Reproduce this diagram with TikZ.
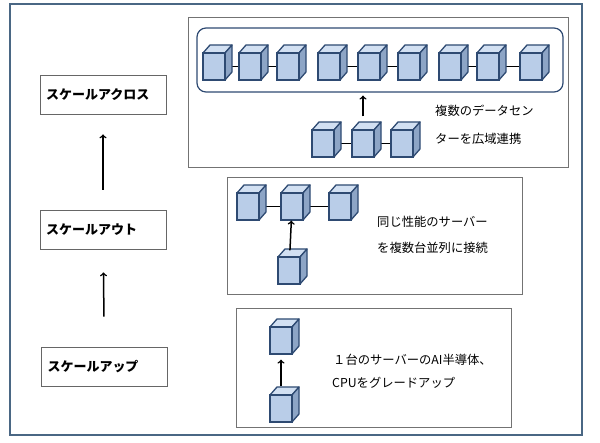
\documentclass[tikz,border=0pt]{standalone}
\usepackage{fontspec}
\setmainfont{Noto Sans CJK JP}
\usetikzlibrary{arrows,backgrounds}
\definecolor{srvfront}{HTML}{B9CDE8}
\definecolor{srvside}{HTML}{8DA5C6}
\definecolor{srvtop}{HTML}{D2E0F2}
\definecolor{srvline}{HTML}{2E4A72}
\definecolor{frameblue}{HTML}{4A6784}
% server cube: name, x, y of front top-left
\newcommand\srv[3]{
  \draw [srvline, line width=1.3pt, line join=round, fill=srvtop] (#2,#3) -- ({#2+7},{#3-8}) -- ({#2+29},{#3-8}) -- ({#2+22},#3) -- cycle;
  \draw [srvline, line width=1.3pt, line join=round, fill=srvside] ({#2+22},#3) -- ({#2+29},{#3-8}) -- ({#2+29},{#3+19}) -- ({#2+22},{#3+27}) -- cycle;
  \node [front] (#1) at ({#2+11},{#3+13.5}) {};
}
\tikzset{
  front/.style={draw=srvline, line width=1.3pt, fill=srvfront, minimum width=22pt, minimum height=27pt, inner sep=0pt},
  panel/.style={draw=black!55, line width=0.8pt, inner sep=0pt},
  level/.style={draw=black!60, line width=0.8pt, minimum width=126pt, minimum height=39pt, text width=114pt, align=left, font=\fontsize{13}{15}\selectfont\bfseries},
  note/.style={anchor=west, inner sep=0pt, font=\fontsize{12.3}{14}\selectfont},
  link/.style={black, line width=1.5pt},
  up/.style={->, line width=1.5pt}
}
\begin{document}
\begin{tikzpicture}[x=1pt, y=-1pt]
\useasboundingbox (0,0) rectangle (600,443);
\draw [frameblue, line width=1.8pt] (10,4) rectangle (582,435);

% levels
\node [level] (across) at (103,94.5) {スケールアクロス};
\node [level] (out)    at (103,229.5) {スケールアウト};
\node [level] (upl)    at (104.5,366.5) {スケールアップ};
\draw [up, shorten <=20pt, shorten >=20pt] (out) -- (across);
\draw [up, shorten <=30pt, shorten >=23pt] (upl) -- (out);

% panels
\node [panel, minimum width=380pt, minimum height=150pt] (p1) at (378,92) {};
\node [panel, minimum width=295pt, minimum height=117pt] (p2) at (374.5,235.5) {};
\node [panel, minimum width=275pt, minimum height=119pt] (p3) at (373.5,367.5) {};

% data centers
\node [draw=srvline, line width=1.2pt, rounded corners=9pt, minimum width=366pt, minimum height=64pt] (dcs) at (380,60) {};
\srv{a1}{203}{53} \srv{a2}{239}{53} \srv{a3}{277}{53}
\srv{b1}{318}{53} \srv{b2}{358}{53} \srv{b3}{398}{53}
\srv{c1}{439}{53} \srv{c2}{477}{53} \srv{c3}{520}{53}
\srv{d1}{312}{130} \srv{d2}{352}{130} \srv{d3}{391}{130}
\begin{pgfonlayer}{background}
\foreach \g in {a,b,c,d} {
  \draw [link] (\g1) -- (\g2);
  \draw [link] (\g2) -- (\g3);
}
\end{pgfonlayer}
\draw [up, shorten <=13pt, shorten >=3pt] (d2) -- (d2 |- dcs.south);
\node [note] (t1) at (435,111) {複数のデータセン};
\node [note] (t2) at (435,139) {ターを広域連携};

% scale out
\srv{e1}{237}{193} \srv{e2}{281}{193} \srv{e3}{329}{193}
\srv{e4}{278}{257}
\begin{pgfonlayer}{background}
\draw [link] (e1) -- (e2);
\draw [link] (e2) -- (e3);
\end{pgfonlayer}
\draw [up, shorten <=6pt] (e4) -- (e2);
\node [note] (t3) at (377,222) {同じ性能のサーバー};
\node [note] (t4) at (377,248) {を複数台並列に接続};

% scale up
\srv{f1}{270}{327}
\srv{f2}{270}{395}
\draw [up, shorten <=8pt, shorten >=5pt] (f2) -- (f1);
\node [note] (t5) at (333,360) {１台のサーバーのAI半導体、};
\node [note] (t6) at (332,383) {CPUをグレードアップ};
\end{tikzpicture}
\end{document}
